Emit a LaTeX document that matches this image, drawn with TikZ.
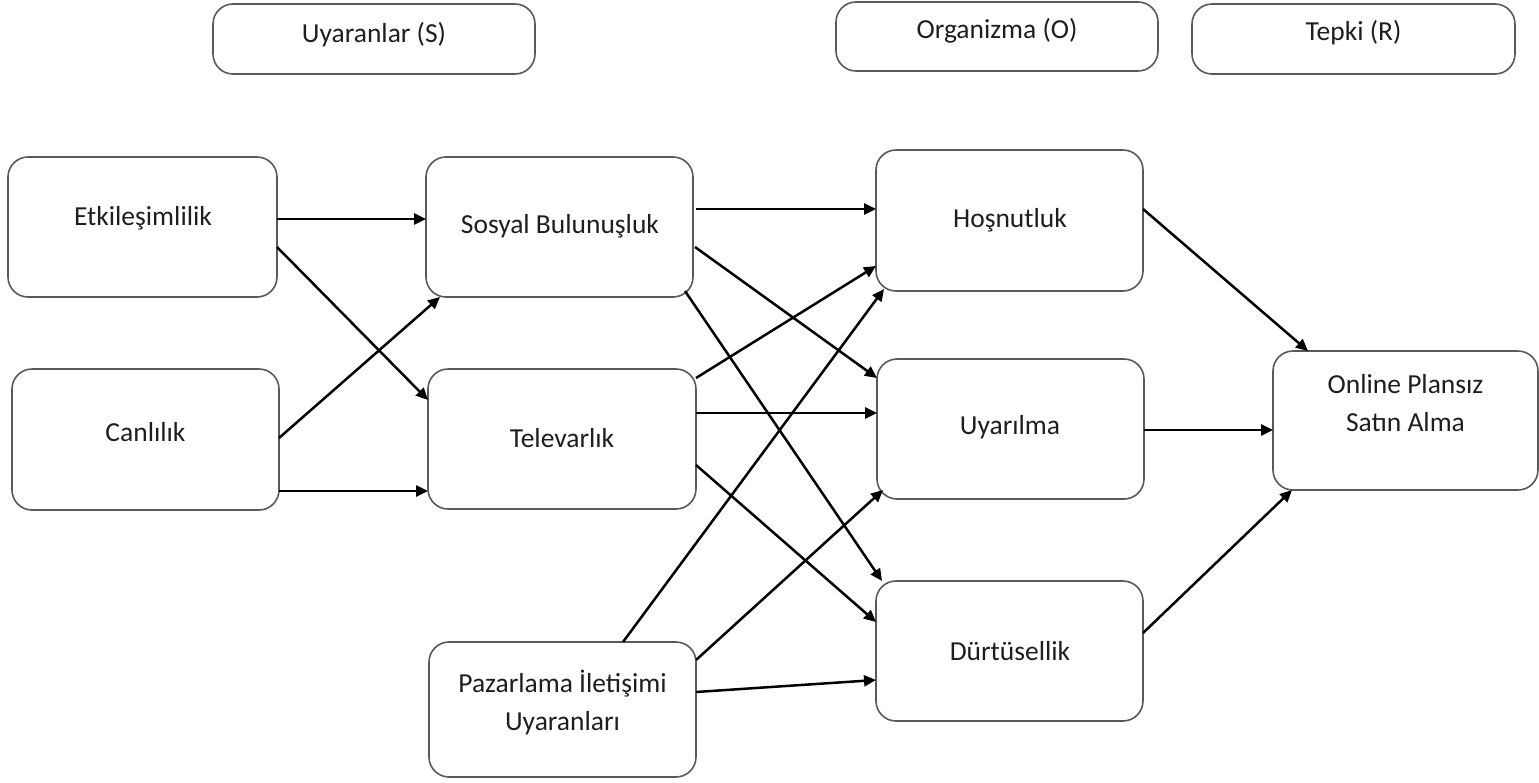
\documentclass[tikz,border=0pt]{standalone}
\usepackage{fontspec}
\setmainfont{Carlito}
\usetikzlibrary{arrows.meta}
\definecolor{boxline}{HTML}{595959}
\definecolor{txt}{HTML}{1E1E1E}
\tikzset{
  box/.style={draw=boxline, line width=1.6pt, rounded corners=20pt, fill=white, inner sep=0pt, outer sep=0pt},
  lbl/.style={text=txt, font=\fontsize{27.5}{38}\selectfont, align=center, inner sep=0pt},
  arr/.style={draw=black, line width=2.5pt, -{Triangle[length=12pt,width=11pt]}}
}
\begin{document}
\begin{tikzpicture}[x=1pt,y=-1pt]
\useasboundingbox (0,0) rectangle (1539,782);
% header boxes
\node[box, minimum width=322, minimum height=70] (S) at (374,39) {};
\node[lbl] (St) at (374,35) {Uyaranlar (S)};
\node[box, minimum width=322, minimum height=69] (O) at (997,36.5) {};
\node[lbl] (Ot) at (997,31) {Organizma (O)};
\node[box, minimum width=323, minimum height=70] (R) at (1353.5,39) {};
\node[lbl] (Rt) at (1353.5,33) {Tepki (R)};
% main boxes
\node[box, minimum width=269, minimum height=140] (etk) at (142.5,227) {};
\node[lbl] (etkt) at (143,218) {Etkileşimlilik};
\node[box, minimum width=267, minimum height=141] (can) at (145.5,439.5) {};
\node[lbl] (cant) at (145.5,432) {Canlılık};
\node[box, minimum width=267, minimum height=140] (sos) at (559.5,227) {};
\node[lbl] (sost) at (560,226) {Sosyal Bulunuşluk};
\node[box, minimum width=268, minimum height=140] (tel) at (562,439) {};
\node[lbl] (telt) at (562,438) {Televarlık};
\node[box, minimum width=267, minimum height=135] (paz) at (562.5,709.5) {};
\node[lbl] (pazt) at (562.5,702.5) {Pazarlama İletişimi\\Uyaranları};
\node[box, minimum width=267, minimum height=141] (hos) at (1009.5,220.5) {};
\node[lbl] (host) at (1010,220) {Hoşnutluk};
\node[box, minimum width=267, minimum height=140] (uya) at (1010.5,429) {};
\node[lbl] (uyat) at (1010,427) {Uyarılma};
\node[box, minimum width=267, minimum height=140] (dur) at (1009.5,651) {};
\node[lbl] (durt) at (1010,651) {Dürtüsellik};
\node[box, minimum width=265, minimum height=139] (onl) at (1405.5,420.5) {};
\node[lbl] (onlt) at (1405.5,403) {Online Plansız\\Satın Alma};
% connectors
\draw[arr] ([yshift=8pt]etk.east) -- ([yshift=8pt]sos.west);
\draw[arr] ([yshift=-20pt]etk.east) -- ([yshift=39pt]tel.west);
\draw[arr] ([yshift=1.5pt]can.east) -- ([xshift=-119.5pt]sos.south);
\draw[arr] ([yshift=-51.5pt]can.east) -- ([yshift=-52pt]tel.west);
\draw[arr] ([xshift=3pt,yshift=18pt]sos.east) -- ([yshift=11.5pt]hos.west);
\draw[arr] ([xshift=2pt,yshift=-20pt]sos.east) -- ([yshift=51pt]uya.west);
\draw[arr] ([xshift=-8pt,yshift=6pt]sos.south east) -- ([xshift=-127.5pt]dur.north);
\draw[arr] ([yshift=61pt]tel.east) -- ([yshift=-45.5pt]hos.west);
\draw[arr] ([yshift=26pt]tel.east) -- ([yshift=16pt]uya.west);
\draw[arr] ([yshift=-26pt]tel.east) -- ([yshift=29pt]dur.west);
\draw[arr] ([xshift=60.5pt]paz.north) -- ([xshift=8pt,yshift=2pt]hos.south west);
\draw[arr] ([yshift=49.5pt]paz.east) -- ([xshift=6pt,yshift=9pt]uya.south west);
\draw[arr] ([yshift=17.5pt]paz.east) -- ([yshift=-29pt]dur.west);
\draw[arr] ([yshift=11.5pt]hos.east) -- ([xshift=-97.5pt]onl.north);
\draw[arr] ([yshift=-1pt]uya.east) -- ([yshift=-9.5pt]onl.west);
\draw[arr] ([yshift=18pt]dur.east) -- ([xshift=-113.5pt]onl.south);
\end{tikzpicture}
\end{document}
